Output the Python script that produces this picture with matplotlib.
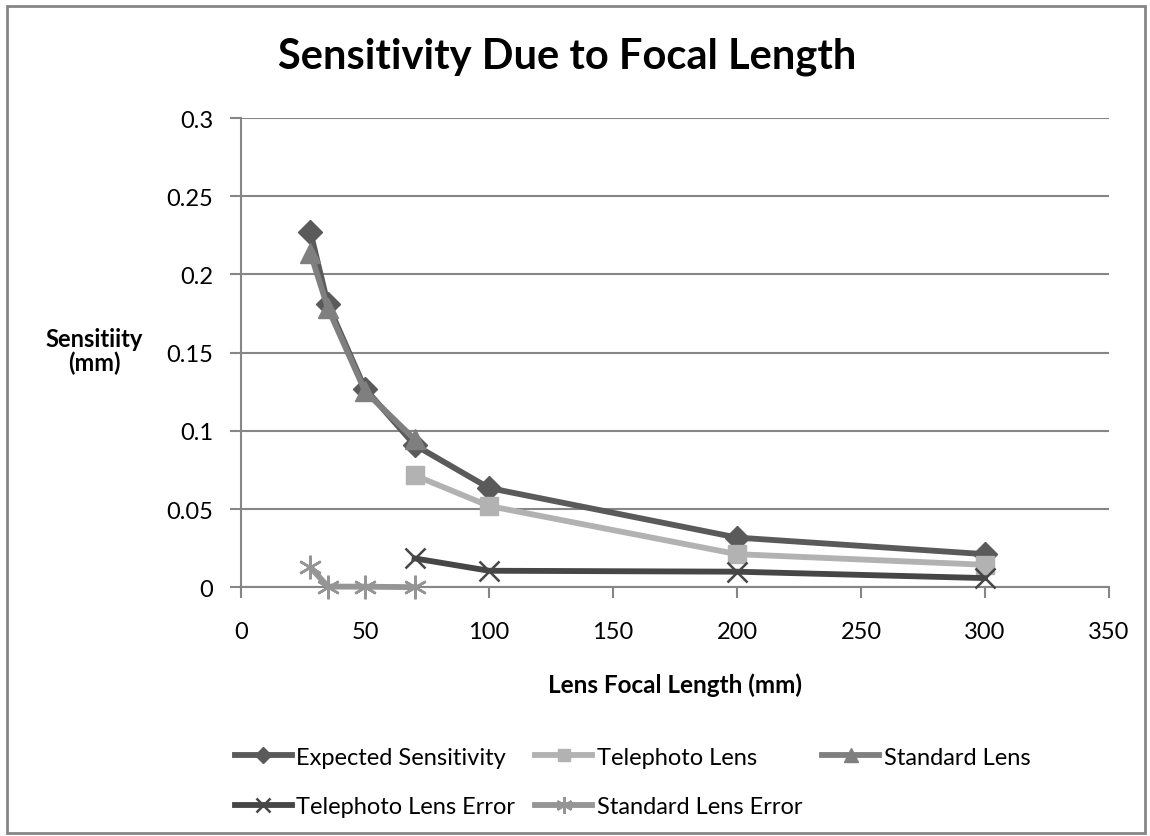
import matplotlib.pyplot as plt
from matplotlib.patches import Rectangle

plt.rcParams['font.family'] = ['Lato', 'DejaVu Sans']

# Data
focal_expected = [28, 35, 50, 70, 100, 200, 300]
expected = [0.227, 0.181, 0.127, 0.091, 0.0635, 0.0318, 0.0212]

focal_tele = [70, 100, 200, 300]
telephoto = [0.0716, 0.052, 0.0212, 0.0144]
telephoto_err = [0.0185, 0.0106, 0.0100, 0.0059]

focal_std = [28, 35, 50, 70]
standard = [0.2137, 0.1786, 0.1254, 0.0946]
standard_err = [0.0128, 0.0005, 0.0004, 0.0001]

fig = plt.figure(figsize=(11.5, 8.37), dpi=100)
ax = fig.add_axes([0.2096, 0.2971, 0.7547, 0.5607])

lw = 4.2
h1, = ax.plot(focal_expected, expected, color='#5a5a5a', lw=lw, marker='D', ms=12,
              label='Expected Sensitivity', zorder=3, clip_on=False)
h2, = ax.plot(focal_tele, telephoto, color='#b2b2b2', lw=lw, marker='s', ms=13,
              label='Telephoto Lens', zorder=3, clip_on=False)
h3, = ax.plot(focal_std, standard, color='#7f7f7f', lw=lw, marker='^', ms=14,
              label='Standard Lens', zorder=4, clip_on=False)
h4, = ax.plot(focal_tele, telephoto_err, color='#464646', lw=lw, marker='x', ms=14,
              mew=1.8, label='Telephoto Lens Error', zorder=3, clip_on=False)
h5, = ax.plot(focal_std, standard_err, color='#959595', lw=lw, marker=(6, 2, 0), ms=17,
              mew=1.8, label='Standard Lens Error', zorder=3, clip_on=False)

ax.set_xlim(0, 350)
ax.set_ylim(0, 0.3)
ax.set_xticks(range(0, 351, 50))
ax.set_yticks([0, 0.05, 0.1, 0.15, 0.2, 0.25, 0.3])
ax.set_yticklabels(['0', '0.05', '0.1', '0.15', '0.2', '0.25', '0.3'])
ax.tick_params(labelsize=17, color='#868686', length=8, width=1.5)
ax.tick_params(axis='x', pad=16)
ax.tick_params(axis='y', pad=12)
ax.yaxis.grid(True, color='#868686', lw=1.5)
ax.set_axisbelow(True)
for s in ['top', 'right']:
    ax.spines[s].set_visible(False)
for s in ['left', 'bottom']:
    ax.spines[s].set_color('#868686')
    ax.spines[s].set_linewidth(1.5)

fig.text(0.493, 0.932, 'Sensitivity Due to Focal Length', ha='center', va='center',
         fontsize=30, fontweight='bold')
fig.text(0.082, 0.580, 'Sensitiity\n(mm)', ha='center', va='center',
         fontsize=17, fontweight='bold', linespacing=1.0)
fig.text(0.587, 0.181, 'Lens Focal Length (mm)', ha='center', va='center',
         fontsize=17.5, fontweight='bold')

# row-major order like the original legend
handles = [h1, h4, h2, h5, h3]
fig.legend(handles=handles, labels=[h.get_label() for h in handles], ncol=3,
           loc='upper left', bbox_to_anchor=(0.196, 0.118), frameon=False,
           fontsize=17, handlelength=2.4, handletextpad=0.2, columnspacing=0.85,
           labelspacing=1.2, markerscale=0.7, borderaxespad=0)

fig.patches.append(Rectangle((0.006, 0.003), 0.99, 0.989, transform=fig.transFigure,
                             fill=False, edgecolor='#868686', lw=2))

fig.savefig('out.png', dpi=100)
